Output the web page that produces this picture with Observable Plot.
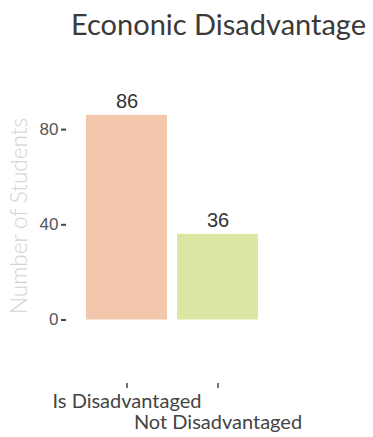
<!DOCTYPE html>
<html>
<head>
<meta charset="utf-8">
<script src="https://cdn.jsdelivr.net/npm/d3@7"></script>
<script src="https://cdn.jsdelivr.net/npm/@observablehq/plot@0.6"></script>
<style>
  html, body { margin: 0; padding: 0; background: #fff; }
  #wrap { width: 373px; height: 437px; position: relative; overflow: hidden; }
  #title { position: absolute; left: 0; top: 0; width: 373px; height: 48px;
           font-family: Lato, sans-serif; font-size: 29px; color: #3a3a3a;
           text-align: center; line-height: 48px; padding-left: 64px; box-sizing: border-box; white-space: nowrap; }
  #chart { position: absolute; left: 0; top: 60px; }
</style>
</head>
<body>
<div id="wrap">
  <div id="title">Econonic Disadvantage</div>
  <div id="chart"></div>
</div>
<script>
const categories = ["Is Disadvantaged", "Not Disadvantaged"];
const counts = [86, 36];
const barColors = ["#f3c7ab", "#dae7a2"];
const yTicks = [0, 40, 80];
const yLabel = "Number of Students";

const data = categories.map((c, i) => ({category: c, count: counts[i]}));

const chart = Plot.plot({
  width: 373,
  height: 377,
  marginLeft: 66,
  marginBottom: 54,
  marginTop: 0,
  marginRight: 0,
  style: {fontFamily: "Lato, sans-serif", background: "#fff"},
  x: {domain: categories, range: [81, 263], paddingInner: 0.11, paddingOuter: 0.055, axis: null},
  y: {domain: [0, 90], range: [259.5, 259.5 - 90 * 2.38], axis: null},
  color: {domain: categories, range: barColors},
  marks: [
    Plot.barY(data, {x: "category", y: "count", fill: "category"}),
    Plot.text(data, {x: "category", y: "count", text: d => String(d.count), dy: -14,
      fontSize: 20, fill: "#333", fontFamily: "Liberation Sans, Arial, sans-serif"}),
    Plot.axisY({ticks: yTicks, tickSize: 5, tickPadding: 3, strokeWidth: 2, stroke: "#444",
      fontSize: 17, fill: "#555", fontFamily: "Liberation Sans, Arial, sans-serif", label: null}),
    Plot.text([yLabel], {frameAnchor: "left", textAnchor: "middle", dx: -47, dy: -6, rotate: -90,
      text: d => d, fontSize: 22.5, fill: "#d2d2d2", fontWeight: 300}),
    Plot.axisX({ticks: [categories[0]], tickSize: 5, tickPadding: 5, strokeWidth: 1.5, stroke: "#444",
      fontSize: 20, fill: "#444", label: null}),
    Plot.axisX({ticks: [categories[1]], tickSize: 5, tickPadding: 26, strokeWidth: 1.5, stroke: "#444",
      fontSize: 20, fill: "#444", label: null})
  ]
});
document.getElementById("chart").appendChild(chart);
</script>
</body>
</html>
